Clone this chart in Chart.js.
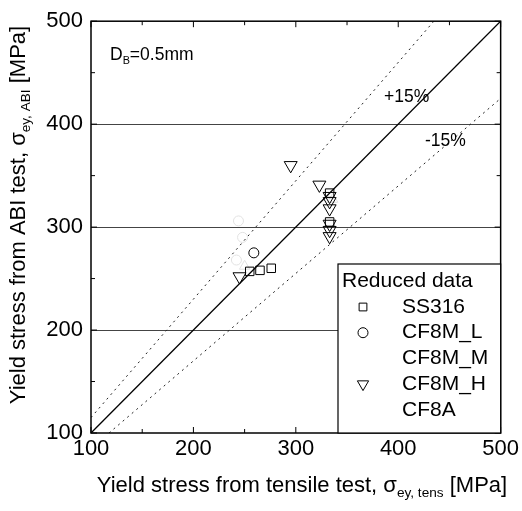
<!DOCTYPE html>
<html><head><meta charset="utf-8">
<script src="https://cdn.jsdelivr.net/npm/chart.js@4"></script>
<style>html,body{margin:0;padding:0;background:#fff;overflow:hidden}</style>
</head><body>
<canvas id="c" width="522" height="511"></canvas>
<script>
// ---- data ----
const xTickValues = [100, 200, 300, 400, 500];
const yTickValues = [100, 200, 300, 400, 500];
const gridYValues = [200, 300, 400];

const ss316X = [255, 265, 276, 333, 333];
const ss316Y = [257, 258, 260, 333, 305];

const cf8mLX = [259];
const cf8mLY = [275];

const cf8mMX = [244, 248, 242];
const cf8mMY = [306, 290, 268];

const cf8mHX = [245, 295, 323, 333, 333, 333, 333, 333, 333];
const cf8mHY = [252, 360, 341, 330, 325, 318, 303, 297, 291];

const cf8aX = [250, 336];
const cf8aY = [262, 327];

const equalX = [100, 500];
const equalY = [100, 500];
const plusX = [100, 434.8];
const plusY = [115, 500];
const minusX = [117.6, 500];
const minusY = [100, 425];

const FONT = "'Liberation Sans', Arial, Helvetica, sans-serif";

function pts(xs, ys) { return xs.map((x, i) => ({x: x, y: ys[i]})); }

const legendEntries = [
  {label: 'SS316', ds: 0},
  {label: 'CF8M_L', ds: 1},
  {label: 'CF8M_M', ds: 2},
  {label: 'CF8M_H', ds: 3},
  {label: 'CF8A', ds: 4}
];

function drawParts(ctx, parts, size, draw) {
  let x = 0;
  for (const p of parts) {
    const fs = p.sub ? size * 0.62 : size;
    ctx.font = fs + 'px ' + FONT;
    const w = ctx.measureText(p.t).width;
    if (draw) ctx.fillText(p.t, x, p.sub ? size * 0.35 : 0);
    x += w;
  }
  return x;
}

function drawRichText(ctx, parts, size, cx, cy, rot, align) {
  ctx.save();
  ctx.translate(cx, cy);
  if (rot) ctx.rotate(rot);
  ctx.textBaseline = 'middle';
  ctx.textAlign = 'left';
  ctx.fillStyle = '#000';
  const w = drawParts(ctx, parts, size, false);
  ctx.translate(align === 'left' ? 0 : -w / 2, 0);
  drawParts(ctx, parts, size, true);
  ctx.restore();
}

const decor = {
  id: 'decor',
  beforeDatasetsDraw(chart) {
    const {ctx, chartArea: a, scales: {x, y}} = chart;
    ctx.save();
    ctx.strokeStyle = '#444';
    ctx.lineWidth = 1;
    for (const v of gridYValues) {
      const py = Math.round(y.getPixelForValue(v)) + 0.5;
      ctx.beginPath(); ctx.moveTo(a.left, py); ctx.lineTo(a.right, py); ctx.stroke();
    }
    ctx.restore();
  },
  afterDraw(chart) {
    const {ctx, chartArea: a, scales: {x, y}} = chart;
    ctx.save();
    // frame
    ctx.strokeStyle = '#000';
    ctx.lineWidth = 1.5;
    ctx.strokeRect(a.left, a.top, a.right - a.left, a.bottom - a.top);
    // inward ticks
    ctx.lineWidth = 1;
    for (let v = 100; v <= 500; v += 50) {
      const len = (v % 100 === 0) ? 6 : 4;
      const px = x.getPixelForValue(v);
      ctx.beginPath();
      ctx.moveTo(px, a.bottom); ctx.lineTo(px, a.bottom - len);
      ctx.moveTo(px, a.top); ctx.lineTo(px, a.top + len);
      ctx.stroke();
      const py = y.getPixelForValue(v);
      ctx.beginPath();
      ctx.moveTo(a.left, py); ctx.lineTo(a.left + len, py);
      ctx.moveTo(a.right, py); ctx.lineTo(a.right - len, py);
      ctx.stroke();
    }
    // legend box
    const lx = 338, ly = 264, lw = a.right - 338, lh = a.bottom - 264;
    ctx.fillStyle = '#fff';
    ctx.fillRect(lx, ly, lw, lh);
    ctx.strokeStyle = '#000';
    ctx.lineWidth = 1.2;
    ctx.strokeRect(lx, ly, lw, lh);
    ctx.fillStyle = '#000';
    ctx.font = '21px ' + FONT;
    ctx.textBaseline = 'middle';
    ctx.textAlign = 'left';
    ctx.fillText('Reduced data', 342, 281);
    legendEntries.forEach((e, i) => {
      const cy = 307 + i * 25.7;
      const ds = chart.data.datasets[e.ds];
      ctx.save();
      ctx.strokeStyle = ds.pointBorderColor || ds.borderColor;
      ctx.fillStyle = 'rgba(0,0,0,0)';
      ctx.lineWidth = ds.borderWidth;
      if (!ds.hideLegendSymbol) {
        Chart.helpers.drawPoint(ctx, {
          pointStyle: ds.pointStyle, radius: ds.legendRadius || ds.pointRadius,
          rotation: ds.pointRotation || 0, borderWidth: ds.borderWidth
        }, 363, cy);
      }
      ctx.restore();
      ctx.fillStyle = '#000';
      ctx.font = '21px ' + FONT;
      ctx.fillText(e.label, 402, cy);
    });
    // annotations
    drawRichText(ctx, [{t: 'D'}, {t: 'B', sub: true}, {t: '=0.5mm'}], 17.5, 110, 55, 0, 'left');
    ctx.fillStyle = '#000';
    ctx.font = '17.5px ' + FONT;
    ctx.textBaseline = 'middle';
    ctx.textAlign = 'left';
    ctx.fillText('+15%', 384, 97);
    ctx.fillText('-15%', 425, 141);
    // axis titles
    drawRichText(ctx, [{t: 'Yield stress from tensile test, \u03c3'}, {t: 'ey, tens', sub: true}, {t: ' [MPa]'}], 22, 302, 486, 0);
    drawRichText(ctx, [{t: 'Yield stress from ABI test, \u03c3'}, {t: 'ey, ABI', sub: true}, {t: ' [MPa]'}], 22, 19, 215, -Math.PI / 2);
    ctx.restore();
  }
};

new Chart(document.getElementById('c'), {
  type: 'scatter',
  data: {
    datasets: [
      {label: 'SS316', data: pts(ss316X, ss316Y), pointStyle: 'rect', pointRadius: 6, legendRadius: 5.5, borderColor: '#000', backgroundColor: 'rgba(0,0,0,0)', borderWidth: 1},
      {label: 'CF8M_L', data: pts(cf8mLX, cf8mLY), pointStyle: 'circle', pointRadius: 5, borderColor: '#000', backgroundColor: 'rgba(0,0,0,0)', borderWidth: 1},
      {label: 'CF8M_M', data: pts(cf8mMX, cf8mMY), pointStyle: 'circle', pointRadius: 5, borderColor: '#e2e2e2', backgroundColor: 'rgba(0,0,0,0)', borderWidth: 1, hideLegendSymbol: true},
      {label: 'CF8M_H', data: pts(cf8mHX, cf8mHY), pointStyle: 'triangle', pointRotation: 180, pointRadius: 7.5, legendRadius: 6.5, borderColor: '#000', backgroundColor: 'rgba(0,0,0,0)', borderWidth: 1},
      {label: 'CF8A', data: pts(cf8aX, cf8aY), pointStyle: 'triangle', pointRotation: 0, pointRadius: 6, borderColor: '#e2e2e2', backgroundColor: 'rgba(0,0,0,0)', borderWidth: 1, hideLegendSymbol: true},
      {label: 'y=x', type: 'line', data: pts(equalX, equalY), showLine: true, pointRadius: 0, borderColor: '#000', borderWidth: 1.3},
      {label: '+15%', type: 'line', data: pts(plusX, plusY), showLine: true, pointRadius: 0, borderColor: '#222', borderWidth: 1, borderDash: [2, 4]},
      {label: '-15%', type: 'line', data: pts(minusX, minusY), showLine: true, pointRadius: 0, borderColor: '#222', borderWidth: 1, borderDash: [2, 4]}
    ]
  },
  options: {
    responsive: false,
    animation: false,
    layout: {padding: {top: 20, right: 19, left: 0, bottom: 0}},
    plugins: {legend: {display: false}, tooltip: {enabled: false}},
    scales: {
      x: {
        type: 'linear', min: 100, max: 500,
        afterBuildTicks(s) { s.ticks = xTickValues.map(v => ({value: v})); },
        afterFit(s) { s.height = 78; },
        grid: {display: false, drawTicks: false},
        border: {display: false},
        ticks: {color: '#000', font: {size: 22, family: FONT}, padding: 3, maxRotation: 0}
      },
      y: {
        type: 'linear', min: 100, max: 500,
        afterBuildTicks(s) { s.ticks = yTickValues.map(v => ({value: v})); },
        afterFit(s) { s.width = 91; },
        grid: {display: false, drawTicks: false},
        border: {display: false},
        ticks: {color: '#000', font: {size: 22, family: FONT}, padding: 8}
      }
    }
  },
  plugins: [decor]
});
</script>
</body></html>
